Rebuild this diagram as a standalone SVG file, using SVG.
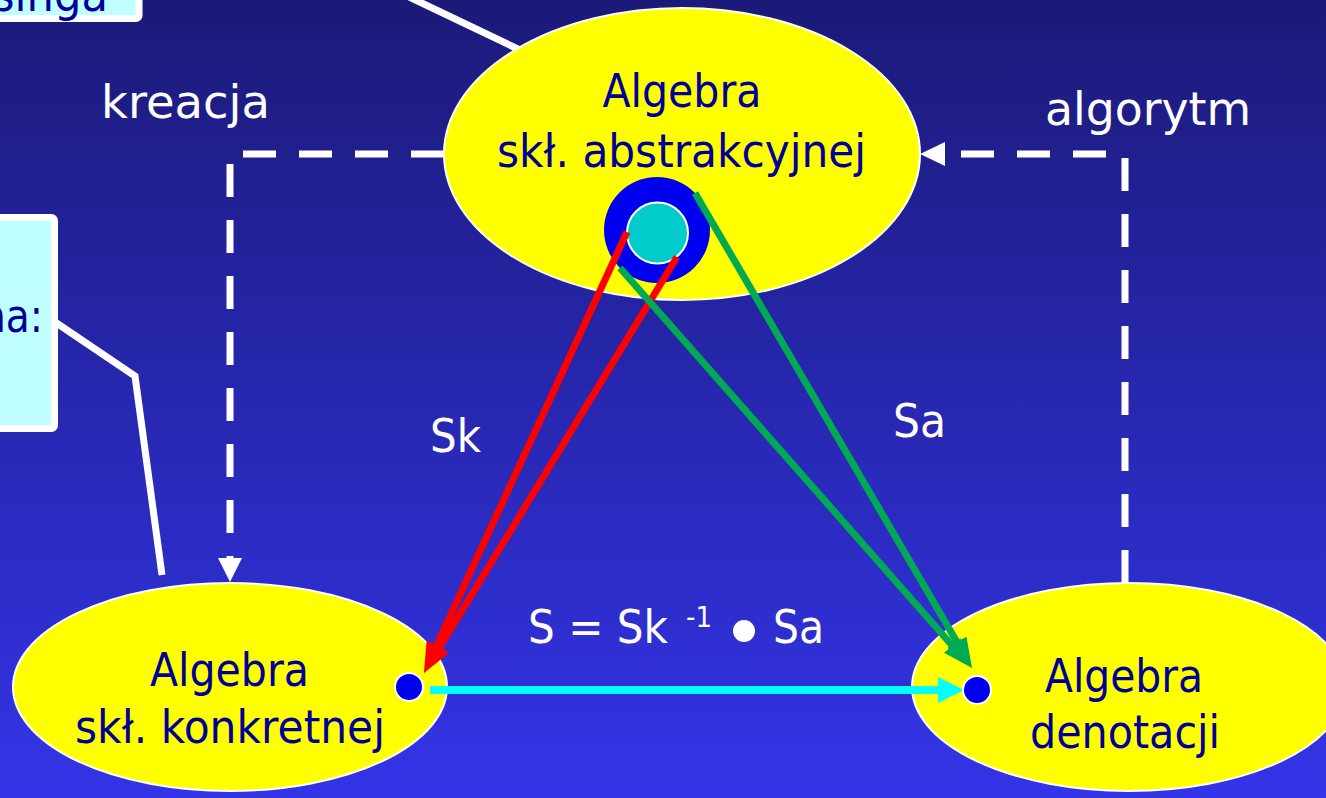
<svg xmlns="http://www.w3.org/2000/svg" width="1326" height="798" viewBox="0 0 1326 798">
<defs>
<linearGradient id="bg" x1="0" y1="0" x2="0" y2="1">
<stop offset="0" stop-color="#1b1a78"/>
<stop offset="1" stop-color="#3434e8"/>
</linearGradient>
<marker id="ar" viewBox="0 0 30 22" refX="0" refY="11" markerWidth="30" markerHeight="22" markerUnits="userSpaceOnUse" orient="auto"><path d="M0,0 L30,11 L0,22 z" fill="#ff0000"/></marker>
<marker id="ag" viewBox="0 0 30 22" refX="0" refY="11" markerWidth="30" markerHeight="22" markerUnits="userSpaceOnUse" orient="auto"><path d="M0,0 L30,11 L0,22 z" fill="#00aa55"/></marker>
<marker id="ac" viewBox="0 0 26 26" refX="0" refY="13" markerWidth="26" markerHeight="26" markerUnits="userSpaceOnUse" orient="auto"><path d="M0,0 L26,13 L0,26 z" fill="#00ffff"/></marker>
<style>
.node{fill:#ffff00;stroke:#ffffff;stroke-width:2}
.nt{font-family:"DejaVu Sans",Verdana,sans-serif;font-size:46px;fill:#000099;text-anchor:middle}
.lb{font-family:"DejaVu Sans",Verdana,sans-serif;font-size:46px;fill:#ffffff}
.box{fill:#c0ffff;stroke:#ffffff;stroke-width:7}
.call{fill:none;stroke:#ffffff;stroke-width:7}
.dash{fill:none;stroke:#ffffff;stroke-width:7;stroke-dasharray:33 23}
.dot{fill:#0000ee;stroke:#ffffff;stroke-width:2}
.red{stroke:#ff0000;stroke-width:7;fill:none;marker-end:url(#ar)}
.grn{stroke:#00aa55;stroke-width:7;fill:none;marker-end:url(#ag)}
</style>
</defs>
<rect width="1326" height="798" fill="url(#bg)"/>

<g id="callout-top">
<rect class="box" x="-20" y="-30" width="159" height="48.5" rx="3"/>
<text class="nt" x="-8" y="11" style="text-anchor:start" textLength="116" lengthAdjust="spacingAndGlyphs">singa</text>
</g>
<g id="callout-left">
<rect class="box" x="-20" y="217.5" width="74.5" height="211" rx="3"/>
<text class="nt" x="-19" y="332" style="text-anchor:start" textLength="62" lengthAdjust="spacingAndGlyphs">na:</text>
</g>

<g id="connectors">
<path class="call" d="M405,-5 L520,50"/>
<path class="call" d="M55,322 L135,376 L162,575"/>
</g>

<g id="node-abstract">
<ellipse class="node" cx="682" cy="154" rx="238" ry="146"/>
<text class="nt" x="682" y="107" textLength="159" lengthAdjust="spacingAndGlyphs">Algebra</text>
<text class="nt" x="681.5" y="167" textLength="369" lengthAdjust="spacingAndGlyphs">skł. abstrakcyjnej</text>
<circle cx="657" cy="230" r="53" fill="#0000ee"/>
<circle cx="657.5" cy="233" r="30.5" fill="#00cccc" stroke="#ffffff" stroke-width="2"/>
</g>
<g id="node-concrete">
<ellipse class="node" cx="230" cy="687" rx="217" ry="104"/>
<text class="nt" x="229.5" y="686" textLength="159" lengthAdjust="spacingAndGlyphs">Algebra</text>
<text class="nt" x="230" y="743" textLength="310" lengthAdjust="spacingAndGlyphs">skł. konkretnej</text>
</g>
<g id="node-denotation">
<ellipse class="node" cx="1129" cy="687" rx="217" ry="104"/>
<text class="nt" x="1124" y="692" textLength="158" lengthAdjust="spacingAndGlyphs">Algebra</text>
<text class="nt" x="1125" y="748" textLength="190" lengthAdjust="spacingAndGlyphs">denotacji</text>
</g>

<g id="edges">
<path class="dash" d="M444,154 H230 V558"/>
<polygon points="218,558 242,558 230,582" fill="#ffffff"/>
<path class="dash" d="M1125,583 V154 H945"/>
<polygon points="945,142 945,166 920,154" fill="#ffffff"/>
<line class="red" x1="627" y1="232" x2="436.5" y2="645.8"/>
<line class="red" x1="677" y1="257" x2="439.6" y2="647.4"/>
<line class="grn" x1="695" y1="193" x2="956.9" y2="642.1"/>
<line class="grn" x1="620" y1="268" x2="952.2" y2="645.5"/>
<line x1="430" y1="690" x2="938" y2="690" stroke="#00ffff" stroke-width="8" marker-end="url(#ac)"/>
</g>

<g id="dots">
<circle class="dot" cx="409" cy="687" r="14"/>
<circle class="dot" cx="977" cy="690" r="14"/>
</g>

<g id="labels">
<text class="lb" x="101" y="118" textLength="169" lengthAdjust="spacingAndGlyphs">kreacja</text>
<text class="lb" x="1045" y="125" textLength="206" lengthAdjust="spacingAndGlyphs">algorytm</text>
<text class="lb" x="430" y="452" textLength="51" lengthAdjust="spacingAndGlyphs">Sk</text>
<text class="lb" x="893" y="437" textLength="53" lengthAdjust="spacingAndGlyphs">Sa</text>
<text class="lb" x="528" y="643" textLength="140" lengthAdjust="spacingAndGlyphs">S = Sk</text>
<text class="lb" x="686" y="627" style="font-size:28px" textLength="26" lengthAdjust="spacingAndGlyphs">-1</text>
<circle cx="744" cy="631" r="11" fill="#ffffff"/>
<text class="lb" x="773" y="643" textLength="51" lengthAdjust="spacingAndGlyphs">Sa</text>
</g>
</svg>
